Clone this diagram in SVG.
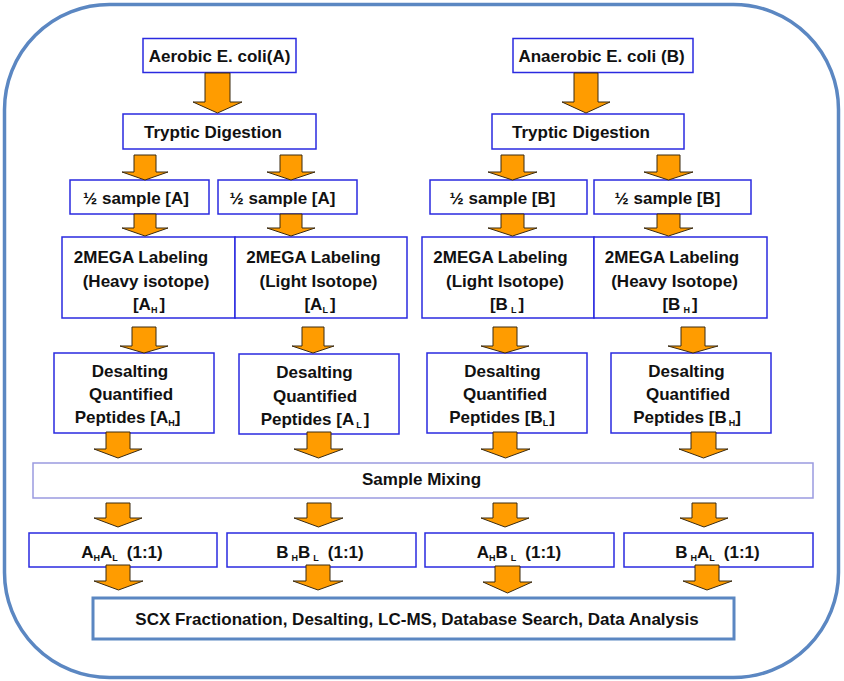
<svg xmlns="http://www.w3.org/2000/svg" width="844" height="681" viewBox="0 0 844 681">
<style>
.box{fill:#fff;stroke:#2a2ae0;stroke-width:1.5}
.mix{fill:#fff;stroke:#9a9ae0;stroke-width:1.5}
.scx{fill:#fff;stroke:#5b87c2;stroke-width:3}
.t{font-family:"Liberation Sans",Arial,sans-serif;font-weight:bold;font-size:17px;fill:#111;text-anchor:middle}
.s{font-size:9px}
.arr{fill:#ff9c00;stroke:#3a2a10;stroke-width:1;stroke-linejoin:miter}
</style>
<rect x="4.5" y="4.5" width="834" height="673" rx="105" ry="105" fill="#fff" stroke="#5b87c2" stroke-width="3.5"/>

<g id="aerobic"><rect class="box" x="143" y="38.5" width="153" height="34"/><text class="t" x="219.5" y="62">Aerobic E. coli(A)</text></g>
<g id="anaerobic"><rect class="box" x="513" y="38.5" width="180" height="34"/><text class="t" x="601.5" y="62">Anaerobic E. coli (B)</text></g>

<g id="tryptic-a"><rect class="box" x="123" y="114" width="193" height="35"/><text class="t" x="213" y="138">Tryptic Digestion</text></g>
<g id="tryptic-b"><rect class="box" x="492" y="114" width="192" height="35"/><text class="t" x="581" y="138">Tryptic Digestion</text></g>

<g id="half-a1"><rect class="box" x="70" y="180" width="139" height="34"/><text class="t" x="136" y="204">½ sample [A]</text></g>
<g id="half-a2"><rect class="box" x="218" y="180" width="139" height="34"/><text class="t" x="282.5" y="204">½ sample [A]</text></g>
<g id="half-b1"><rect class="box" x="430" y="180" width="157" height="34"/><text class="t" x="502.5" y="204">½ sample [B]</text></g>
<g id="half-b2"><rect class="box" x="594" y="180" width="157" height="34"/><text class="t" x="667.5" y="204">½ sample [B]</text></g>

<g id="label-ah"><rect class="box" x="62" y="237" width="173" height="81"/>
<text class="t" x="141" y="263">2MEGA Labeling</text>
<text class="t" x="146" y="287">(Heavy isotope)</text>
<text class="t" x="149" y="310">[A<tspan class="s" dy="3">H</tspan><tspan dy="-3" dx="2">]</tspan></text></g>
<g id="label-al"><rect class="box" x="235" y="237" width="172" height="81"/>
<text class="t" x="313.5" y="263">2MEGA Labeling</text>
<text class="t" x="318.5" y="287">(Light Isotope)</text>
<text class="t" x="320" y="310">[A<tspan class="s" dy="3">L</tspan><tspan dy="-3" dx="2">]</tspan></text></g>
<g id="label-bl"><rect class="box" x="422" y="237" width="172" height="81"/>
<text class="t" x="500.5" y="263">2MEGA Labeling</text>
<text class="t" x="505" y="287">(Light Isotope)</text>
<text class="t" x="507" y="310">[B<tspan class="s" dy="3" dx="3">L</tspan><tspan dy="-3" dx="2">]</tspan></text></g>
<g id="label-bh"><rect class="box" x="594" y="237" width="173" height="81"/>
<text class="t" x="672" y="263">2MEGA Labeling</text>
<text class="t" x="674.5" y="287">(Heavy Isotope)</text>
<text class="t" x="680" y="310">[B<tspan class="s" dy="3" dx="3">H</tspan><tspan dy="-3" dx="2">]</tspan></text></g>

<g id="desalt-ah"><rect class="box" x="54" y="353" width="160" height="80"/>
<text class="t" x="130" y="377">Desalting</text>
<text class="t" x="131" y="400">Quantified</text>
<text class="t" x="127.5" y="423">Peptides [A<tspan class="s" dy="3">H</tspan><tspan dy="-3">]</tspan></text></g>
<g id="desalt-al"><rect class="box" x="239" y="354" width="160" height="80"/>
<text class="t" x="314.5" y="378">Desalting</text>
<text class="t" x="315" y="402">Quantified</text>
<text class="t" x="315" y="425">Peptides [A<tspan class="s" dy="3" dx="2">L</tspan><tspan dy="-3" dx="2">]</tspan></text></g>
<g id="desalt-bl"><rect class="box" x="427" y="353" width="160" height="80"/>
<text class="t" x="502.5" y="377">Desalting</text>
<text class="t" x="505" y="400">Quantified</text>
<text class="t" x="502" y="423">Peptides [B<tspan class="s" dy="3">L</tspan><tspan dy="-3" dx="1">]</tspan></text></g>
<g id="desalt-bh"><rect class="box" x="611" y="353" width="160" height="80"/>
<text class="t" x="686.5" y="377">Desalting</text>
<text class="t" x="688" y="400">Quantified</text>
<text class="t" x="687" y="423">Peptides [B<tspan class="s" dy="3" dx="2">H</tspan><tspan dy="-3">]</tspan></text></g>

<g id="mixing"><rect class="mix" x="33" y="463" width="780" height="35"/><text class="t" x="421.5" y="485">Sample Mixing</text></g>

<g id="ahal"><rect class="box" x="29" y="533" width="188" height="34"/>
<text class="t" x="122" y="558">A<tspan class="s" dy="3">H</tspan><tspan dy="-3">A</tspan><tspan class="s" dy="3">L</tspan><tspan dy="-3" dx="9">(1:1)</tspan></text></g>
<g id="bhbl"><rect class="box" x="227" y="533" width="189" height="34"/>
<text class="t" x="320" y="558">B<tspan class="s" dy="3" dx="3">H</tspan><tspan dy="-3">B</tspan><tspan class="s" dy="3" dx="3">L</tspan><tspan dy="-3" dx="9">(1:1)</tspan></text></g>
<g id="ahbl"><rect class="box" x="425" y="533" width="189" height="34"/>
<text class="t" x="519" y="558">A<tspan class="s" dy="3">H</tspan><tspan dy="-3">B</tspan><tspan class="s" dy="3" dx="3">L</tspan><tspan dy="-3" dx="9">(1:1)</tspan></text></g>
<g id="bhal"><rect class="box" x="624" y="533" width="189" height="34"/>
<text class="t" x="717.5" y="558">B<tspan class="s" dy="3" dx="3">H</tspan><tspan dy="-3">A</tspan><tspan class="s" dy="3">L</tspan><tspan dy="-3" dx="9">(1:1)</tspan></text></g>

<g id="connectors">
<polygon class="arr" points="205,73 230,73 230,102 242,102 217.5,113 193,102 205,102"/>
<polygon class="arr" points="574,73 598,73 598,102 610,102 586,113 562,102 574,102"/>

<polygon class="arr" points="134,155 156,155 156,172 168,172 145,180 122,172 134,172"/>
<polygon class="arr" points="280,155 302,155 302,172 315,172 291,180 267,172 280,172"/>
<polygon class="arr" points="501,155 524,155 524,172 537,172 512.5,180 488,172 501,172"/>
<polygon class="arr" points="657,155 680,155 680,172 693,172 668.5,180 644,172 657,172"/>

<polygon class="arr" points="134,214 156,214 156,228 168,228 145,236 122,228 134,228"/>
<polygon class="arr" points="280,214 302,214 302,228 315,228 291,236 267,228 280,228"/>
<polygon class="arr" points="501,214 524,214 524,228 537,228 512.5,236 488,228 501,228"/>
<polygon class="arr" points="657,214 680,214 680,228 693,228 668.5,236 644,228 657,228"/>

<polygon class="arr" points="132,327 156,327 156,346 168,346 144,353 120,346 132,346"/>
<polygon class="arr" points="302,327 324,327 324,346 334,346 313,353 292,346 302,346"/>
<polygon class="arr" points="493,327 517,327 517,346 529,346 505,353 481,346 493,346"/>
<polygon class="arr" points="681,327 705,327 705,346 718,346 693,353 668,346 681,346"/>

<polygon class="arr" points="106,432 130,432 130,449 142,449 118,458 94,449 106,449"/>
<polygon class="arr" points="307,432 331,432 331,449 343,449 318.5,458 294,449 307,449"/>
<polygon class="arr" points="493,432 517,432 517,449 530,449 505.5,458 481,449 493,449"/>
<polygon class="arr" points="691,432 716,432 716,449 728,449 703.5,458 679,449 691,449"/>

<polygon class="arr" points="106,503 130,503 130,518 142,518 118,527 94,518 106,518"/>
<polygon class="arr" points="307,503 331,503 331,518 343,518 318.5,527 294,518 307,518"/>
<polygon class="arr" points="493,503 517,503 517,518 529,518 505,527 481,518 493,518"/>
<polygon class="arr" points="692,503 716,503 716,518 728,518 704,527 680,518 692,518"/>
</g>

<g id="scx"><rect class="scx" x="93" y="598" width="641" height="41"/>
<text class="t" x="417" y="625">SCX Fractionation, Desalting, LC-MS, Database Search, Data Analysis</text></g>

<g id="connectors-final">
<polygon class="arr" points="106,565 130,565 130,581 143,581 118.5,590 94,581 106,581"/>
<polygon class="arr" points="306,565 330,565 330,581 343,581 318,590 293,581 306,581"/>
<polygon class="arr" points="495,566 520,566 520,582 532,582 507.5,593 483,582 495,582"/>
<polygon class="arr" points="695,565 719,565 719,581 732,581 707,590 683,581 695,581"/>
</g>
</svg>
